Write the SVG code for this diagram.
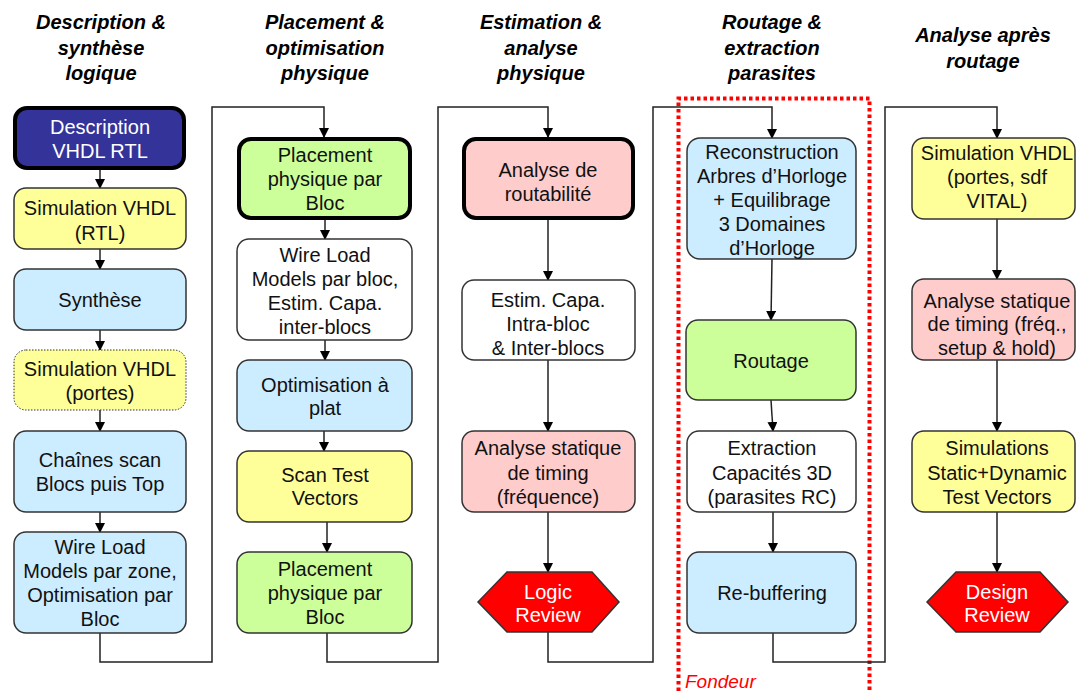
<svg xmlns="http://www.w3.org/2000/svg" width="1076" height="691" viewBox="0 0 1076 691">
<defs>
<marker id="ah" markerWidth="10" markerHeight="10" refX="9" refY="5" orient="auto" markerUnits="userSpaceOnUse">
<path d="M0,0 L10,5 L0,10 Z" fill="#000"/>
</marker>
<style>
.hd{font-family:"Liberation Sans",Arial,sans-serif;font-size:20px;font-weight:bold;font-style:italic;text-anchor:middle;fill:#000}
.t{font-family:"Liberation Sans",Arial,sans-serif;font-size:20px;text-anchor:middle;fill:#111}
.tw{font-family:"Liberation Sans",Arial,sans-serif;font-size:20px;text-anchor:middle;fill:#fff}
.b{stroke:#333;stroke-width:1.5}
.thick{stroke:#000;stroke-width:4}
.yel{fill:#ffff99}.blu{fill:#ccecff}.grn{fill:#ccff99}.pnk{fill:#ffcccc}.wht{fill:#fff}.dbl{fill:#333399}
.c{fill:none;stroke:#222;stroke-width:1.5}
.ca{fill:none;stroke:#222;stroke-width:1.5;marker-end:url(#ah)}
</style>
</defs>
<rect width="1076" height="691" fill="#fff"/>

<g id="headers">
<text class="hd" x="101" y="29">Description &amp;</text>
<text class="hd" x="101" y="55">synthèse</text>
<text class="hd" x="101" y="80">logique</text>
<text class="hd" x="325" y="29">Placement &amp;</text>
<text class="hd" x="325" y="55">optimisation</text>
<text class="hd" x="325" y="80">physique</text>
<text class="hd" x="541" y="29">Estimation &amp;</text>
<text class="hd" x="541" y="55">analyse</text>
<text class="hd" x="541" y="80">physique</text>
<text class="hd" x="772" y="29">Routage &amp;</text>
<text class="hd" x="772" y="55">extraction</text>
<text class="hd" x="772" y="80">parasites</text>
<text class="hd" x="983" y="42">Analyse après</text>
<text class="hd" x="983" y="68">routage</text>
</g>

<g id="fondeur">
<path d="M678.5,691 V98.5 H869.5 V691" fill="none" stroke="#ff0000" stroke-width="4" stroke-dasharray="3.5,3"/>
<text x="685" y="688" font-family="Liberation Sans, Arial, sans-serif" font-size="19" font-style="italic" fill="#ff0000">Fondeur</text>
</g>

<g id="connectors">
<line class="ca" x1="100" y1="170" x2="100" y2="188"/>
<line class="ca" x1="100" y1="249" x2="100" y2="269"/>
<line class="ca" x1="100" y1="330" x2="100" y2="350"/>
<line class="ca" x1="100" y1="410" x2="100" y2="431"/>
<line class="ca" x1="100" y1="512" x2="100" y2="532"/>
<path class="ca" d="M100,633 V662 H212 V107 H324 V137"/>
<line class="ca" x1="325" y1="220" x2="325" y2="239"/>
<line class="ca" x1="325" y1="340" x2="325" y2="360"/>
<line class="ca" x1="324" y1="431" x2="324" y2="451"/>
<line class="ca" x1="327" y1="522" x2="327" y2="552"/>
<path class="ca" d="M327,633 V662 H438 V107 H548 V137"/>
<line class="ca" x1="548" y1="220" x2="548" y2="280"/>
<line class="ca" x1="548" y1="360" x2="548" y2="431"/>
<line class="ca" x1="548" y1="512" x2="548" y2="572"/>
<path class="ca" d="M548,632 V662 H653 V107 H772 V138"/>
<line class="ca" x1="772" y1="259" x2="771" y2="320"/>
<line class="ca" x1="771" y1="400" x2="773" y2="431"/>
<line class="ca" x1="773" y1="512" x2="773" y2="552"/>
<path class="ca" d="M773,633 V662 H885 V107 H997 V138"/>
<line class="ca" x1="997" y1="219" x2="997" y2="279"/>
<line class="ca" x1="997" y1="360" x2="997" y2="431"/>
<line class="ca" x1="997" y1="512" x2="997" y2="572"/>
</g>

<g id="n_desc"><rect x="15" y="108" width="169" height="60" rx="12" class="dbl thick"/>
<text class="tw" x="100" y="134">Description</text><text class="tw" x="100" y="158">VHDL RTL</text></g>
<g id="n_simrtl"><rect x="14" y="188" width="172" height="61" rx="12" class="yel b"/>
<text class="t" x="100" y="215">Simulation VHDL</text><text class="t" x="100" y="240">(RTL)</text></g>
<g id="n_synth"><rect x="14" y="269" width="172" height="61" rx="12" class="blu b"/>
<text class="t" x="100" y="307">Synthèse</text></g>
<g id="n_simportes"><rect x="14" y="350" width="172" height="60" rx="12" class="yel" stroke="#333" stroke-width="1" stroke-dasharray="1.5,1.5"/>
<text class="t" x="100" y="376">Simulation VHDL</text><text class="t" x="100" y="400">(portes)</text></g>
<g id="n_scan"><rect x="14" y="431" width="172" height="81" rx="12" class="blu b"/>
<text class="t" x="100" y="467">Chaînes scan</text><text class="t" x="100" y="491">Blocs puis Top</text></g>
<g id="n_wlm1"><rect x="14" y="532" width="172" height="101" rx="12" class="blu b"/>
<text class="t" x="100" y="554">Wire Load</text><text class="t" x="100" y="578">Models par zone,</text><text class="t" x="100" y="602">Optimisation par</text><text class="t" x="100" y="626">Bloc</text></g>

<g id="n_place1"><rect x="239" y="139" width="171" height="79" rx="12" class="grn thick"/>
<text class="t" x="325" y="162">Placement</text><text class="t" x="325" y="186">physique par</text><text class="t" x="325" y="210">Bloc</text></g>
<g id="n_wlm2"><rect x="237" y="239" width="175" height="101" rx="12" class="wht b"/>
<text class="t" x="325" y="262">Wire Load</text><text class="t" x="325" y="286">Models par bloc,</text><text class="t" x="325" y="310">Estim. Capa.</text><text class="t" x="325" y="334">inter-blocs</text></g>
<g id="n_optim"><rect x="237" y="360" width="175" height="71" rx="12" class="blu b"/>
<text class="t" x="325" y="392">Optimisation à</text><text class="t" x="325" y="415">plat</text></g>
<g id="n_stv"><rect x="237" y="451" width="175" height="71" rx="12" class="yel b"/>
<text class="t" x="325" y="482">Scan Test</text><text class="t" x="325" y="505">Vectors</text></g>
<g id="n_place2"><rect x="237" y="552" width="175" height="81" rx="12" class="grn b"/>
<text class="t" x="325" y="576">Placement</text><text class="t" x="325" y="600">physique par</text><text class="t" x="325" y="624">Bloc</text></g>

<g id="n_rout"><rect x="464" y="139" width="169" height="79" rx="12" class="pnk thick"/>
<text class="t" x="548" y="177">Analyse de</text><text class="t" x="548" y="201">routabilité</text></g>
<g id="n_estim"><rect x="462" y="280" width="173" height="80" rx="12" class="wht b"/>
<text class="t" x="548" y="307">Estim. Capa.</text><text class="t" x="548" y="331">Intra-bloc</text><text class="t" x="548" y="355">&amp; Inter-blocs</text></g>
<g id="n_sta1"><rect x="462" y="431" width="173" height="81" rx="12" class="pnk b"/>
<text class="t" x="548" y="455">Analyse statique</text><text class="t" x="548" y="480">de timing</text><text class="t" x="548" y="504">(fréquence)</text></g>
<g id="n_logic"><polygon points="478,602 507,572 592,572 619,602 592,632 507,632" fill="#ff0000" stroke="#333" stroke-width="1.5"/>
<text class="tw" x="548" y="599">Logic</text><text class="tw" x="548" y="622">Review</text></g>

<g id="n_cts"><rect x="687" y="138" width="169" height="121" rx="13" class="blu b"/>
<text class="t" x="772" y="159">Reconstruction</text><text class="t" x="772" y="183">Arbres d’Horloge</text><text class="t" x="772" y="207">+ Equilibrage</text><text class="t" x="772" y="231">3 Domaines</text><text class="t" x="772" y="255">d’Horloge</text></g>
<g id="n_routage"><rect x="686" y="320" width="170" height="80" rx="12" class="grn b"/>
<text class="t" x="771" y="368">Routage</text></g>
<g id="n_extr"><rect x="687" y="431" width="169" height="81" rx="12" class="wht b"/>
<text class="t" x="772" y="455">Extraction</text><text class="t" x="772" y="480">Capacités 3D</text><text class="t" x="772" y="504">(parasites RC)</text></g>
<g id="n_rebuf"><rect x="687" y="552" width="169" height="81" rx="12" class="blu b"/>
<text class="t" x="772" y="600">Re-buffering</text></g>

<g id="n_simvital"><rect x="912" y="138" width="163" height="81" rx="12" class="yel b"/>
<text class="t" x="997" y="160">Simulation VHDL</text><text class="t" x="997" y="184">(portes, sdf</text><text class="t" x="997" y="208">VITAL)</text></g>
<g id="n_sta2"><rect x="912" y="279" width="163" height="81" rx="12" class="pnk b"/>
<text class="t" x="997" y="308">Analyse statique</text><text class="t" x="997" y="331">de timing (fréq.,</text><text class="t" x="997" y="355">setup &amp; hold)</text></g>
<g id="n_simtv"><rect x="912" y="431" width="163" height="81" rx="12" class="yel b"/>
<text class="t" x="997" y="455">Simulations</text><text class="t" x="997" y="480">Static+Dynamic</text><text class="t" x="997" y="504">Test Vectors</text></g>
<g id="n_design"><polygon points="927,602 956,572 1040,572 1068,602 1040,632 956,632" fill="#ff0000" stroke="#333" stroke-width="1.5"/>
<text class="tw" x="997" y="599">Design</text><text class="tw" x="997" y="622">Review</text></g>
</svg>
